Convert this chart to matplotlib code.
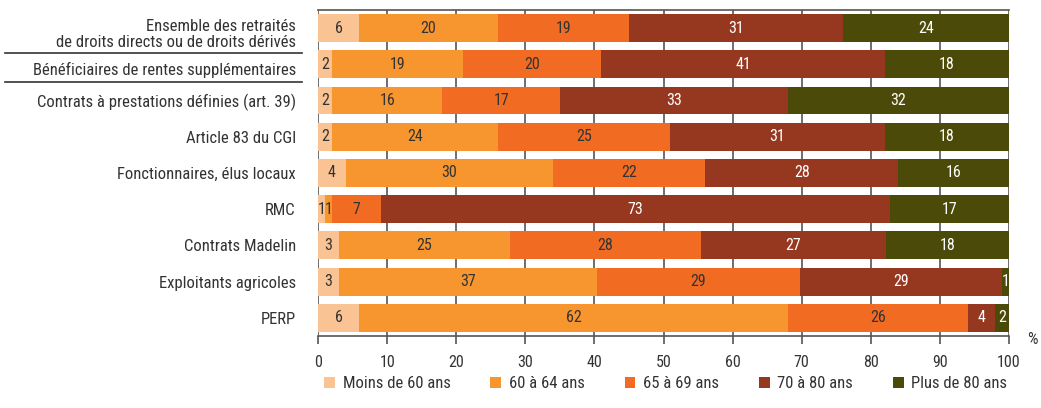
import matplotlib
matplotlib.use("Agg")
import matplotlib.pyplot as plt
from matplotlib.patches import Patch
from matplotlib.transforms import blended_transform_factory, ScaledTranslation
import numpy as np

plt.rcParams['font.family'] = ['Roboto Condensed', 'DejaVu Sans']

# data
categories = [
    "Ensemble des retraités\nde droits directs ou de droits dérivés",
    "Bénéficiaires de rentes supplémentaires",
    "Contrats à prestations définies (art. 39)",
    "Article 83 du CGI",
    "Fonctionnaires, élus locaux",
    "RMC",
    "Contrats Madelin",
    "Exploitants agricoles",
    "PERP",
]
age_groups = ["Moins de 60 ans", "60 à 64 ans", "65 à 69 ans", "70 à 80 ans", "Plus de 80 ans"]
moins60 = [6, 2, 2, 2, 4, 1, 3, 3, 6]
a60_64 = [20, 19, 16, 24, 30, 1, 25, 37, 62]
a65_69 = [19, 20, 17, 25, 22, 7, 28, 29, 26]
a70_80 = [31, 41, 33, 31, 28, 73, 27, 29, 4]
plus80 = [24, 18, 32, 18, 16, 17, 18, 1, 2]
xticks = [0, 10, 20, 30, 40, 50, 60, 70, 80, 90, 100]

colors = ["#FAC393", "#F7962F", "#F26B22", "#963720", "#4B4A08"]
text_colors = ["#333333", "#333333", "#333333", "white", "white"]

series = np.array([moins60, a60_64, a65_69, a70_80, plus80], dtype=float)
# bars are drawn as shares of 100 (labels are rounded)
shares = series / series.sum(axis=0) * 100

fig = plt.figure(figsize=(10.41, 4.08), dpi=100)
ax = fig.add_axes([0.3055, 0.1765, 0.6638, 0.799])

y = np.arange(len(categories))
left = np.zeros(len(categories))
for k in range(len(age_groups)):
    ax.barh(y, shares[k], left=left, height=0.77, color=colors[k],
            label=age_groups[k], zorder=3)
    for i in range(len(categories)):
        ax.text(left[i] + shares[k][i] / 2, y[i], f"{int(series[k][i])}",
                ha="center", va="center", fontsize=11.5,
                color=text_colors[k], zorder=4)
    left += shares[k]

ax.set_xlim(0, 100)
ax.set_ylim(len(categories) - 0.5, -0.5)
ax.set_xticks(xticks)
ax.set_yticks(y)
ax.set_yticklabels(categories, fontsize=12, color="#333333", linespacing=1.1)
ax.tick_params(axis="y", length=0, pad=16)
ax.tick_params(axis="x", length=6, width=1.2, color="#555555",
               labelsize=11.5, labelcolor="#333333", pad=8)
ax.grid(axis="x", color="#555555", linewidth=1.2, zorder=0)
for s in ["top", "bottom"]:
    ax.spines[s].set_color("#555555")
    ax.spines[s].set_linewidth(1.2)
ax.spines["left"].set_visible(False)
ax.spines["right"].set_visible(False)

# first two labels sit a little lower, between the separator lines
for lab in ax.get_yticklabels()[:2]:
    lab.set_transform(lab.get_transform() + ScaledTranslation(0, -4 / 100, fig.dpi_scale_trans))

# separator lines under the first two labels
tr = blended_transform_factory(fig.transFigure, ax.transData)
for yy in [0.70, 1.49]:
    ax.plot([0.005, 0.29], [yy, yy], color="#333333", linewidth=1.2,
            transform=tr, clip_on=False)

fig.text(0.992, 0.167, "%", fontsize=12, color="#333333", ha="center", va="center")

handles = [Patch(facecolor=c) for c in colors]
fig.legend(handles, age_groups, loc="center left", bbox_to_anchor=(0.297, 0.06),
           ncol=5, frameon=False, fontsize=12, handlelength=0.65, handleheight=0.65,
           handletextpad=0.45, columnspacing=2.4, labelcolor="#333333")

fig.savefig("out.png", dpi=100)
